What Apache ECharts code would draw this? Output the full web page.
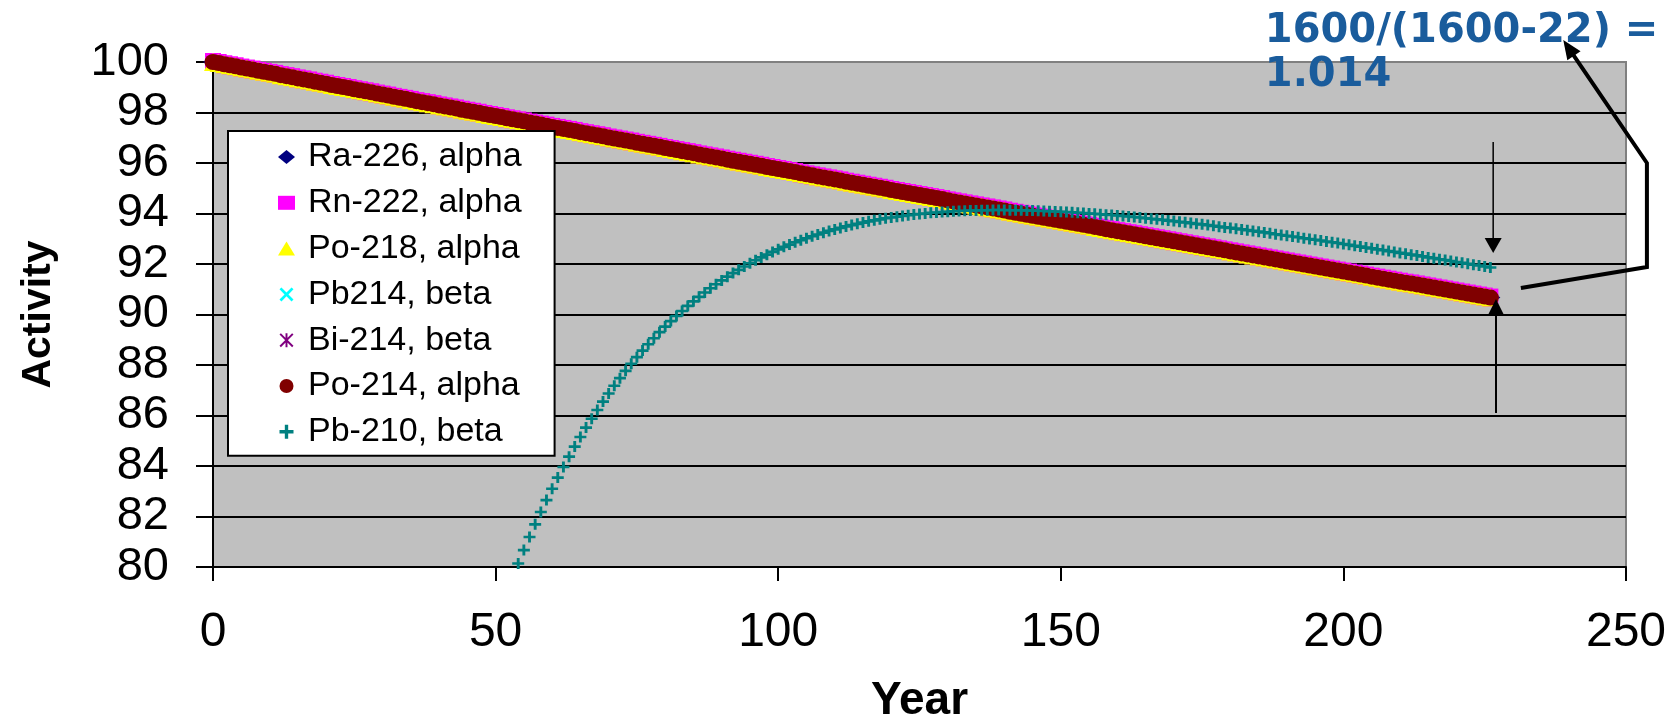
<!DOCTYPE html>
<html><head><meta charset="utf-8">
<script src="https://cdn.jsdelivr.net/npm/echarts@6/dist/echarts.min.js"></script>
<style>html,body{margin:0;padding:0;background:#fff}#c{width:1671px;height:717px}</style>
</head><body><div id="c"></div>
<script>
// ---------------- DATA ----------------
const years = [
0,1,2,3,4,5,6,7,8,9,10,11,12,13,14,15,16,17,18,19,20,21,22,23,24,25,26,27,28,29,
30,31,32,33,34,35,36,37,38,39,40,41,42,43,44,45,46,47,48,49,50,51,52,53,54,55,56,57,58,59,
60,61,62,63,64,65,66,67,68,69,70,71,72,73,74,75,76,77,78,79,80,81,82,83,84,85,86,87,88,89,
90,91,92,93,94,95,96,97,98,99,100,101,102,103,104,105,106,107,108,109,110,111,112,113,114,115,116,117,118,119,
120,121,122,123,124,125,126,127,128,129,130,131,132,133,134,135,136,137,138,139,140,141,142,143,144,145,146,147,148,149,
150,151,152,153,154,155,156,157,158,159,160,161,162,163,164,165,166,167,168,169,170,171,172,173,174,175,176,177,178,179,
180,181,182,183,184,185,186,187,188,189,190,191,192,193,194,195,196,197,198,199,200,201,202,203,204,205,206,207,208,209,
210,211,212,213,214,215,216,217,218,219,220,221,222,223,224,225,226];

// Ra-226 and its short-lived daughters (secular equilibrium, same activity)
const raChainValues = [
100.00,99.96,99.91,99.87,99.83,99.78,99.74,99.70,99.65,99.61,
99.57,99.53,99.48,99.44,99.40,99.35,99.31,99.27,99.22,99.18,
99.14,99.09,99.05,99.01,98.97,98.92,98.88,98.84,98.80,98.75,
98.71,98.67,98.62,98.58,98.54,98.50,98.45,98.41,98.37,98.33,
98.28,98.24,98.20,98.16,98.11,98.07,98.03,97.99,97.94,97.90,
97.86,97.82,97.77,97.73,97.69,97.65,97.60,97.56,97.52,97.48,
97.43,97.39,97.35,97.31,97.27,97.22,97.18,97.14,97.10,97.06,
97.01,96.97,96.93,96.89,96.85,96.80,96.76,96.72,96.68,96.64,
96.59,96.55,96.51,96.47,96.43,96.39,96.34,96.30,96.26,96.22,
96.18,96.13,96.09,96.05,96.01,95.97,95.93,95.89,95.84,95.80,
95.76,95.72,95.68,95.64,95.59,95.55,95.51,95.47,95.43,95.39,
95.35,95.31,95.26,95.22,95.18,95.14,95.10,95.06,95.02,94.98,
94.93,94.89,94.85,94.81,94.77,94.73,94.69,94.65,94.61,94.57,
94.52,94.48,94.44,94.40,94.36,94.32,94.28,94.24,94.20,94.16,
94.12,94.07,94.03,93.99,93.95,93.91,93.87,93.83,93.79,93.75,
93.71,93.67,93.63,93.59,93.55,93.51,93.47,93.43,93.38,93.34,
93.30,93.26,93.22,93.18,93.14,93.10,93.06,93.02,92.98,92.94,
92.90,92.86,92.82,92.78,92.74,92.70,92.66,92.62,92.58,92.54,
92.50,92.46,92.42,92.38,92.34,92.30,92.26,92.22,92.18,92.14,
92.10,92.06,92.02,91.98,91.94,91.90,91.86,91.82,91.78,91.74,
91.70,91.66,91.62,91.58,91.54,91.50,91.46,91.42,91.38,91.34,
91.30,91.26,91.23,91.19,91.15,91.11,91.07,91.03,90.99,90.95,
90.91,90.87,90.83,90.79,90.75,90.71,90.67];

// Pb-210 in-growth, visible from year 54 onward
const pb210FirstYear = 54;
const pb210Values = [
80.14,80.67,81.19,81.69,82.18,82.65,83.10,
83.54,83.96,84.37,84.77,85.15,85.52,85.87,86.22,86.55,86.87,
87.18,87.48,87.77,88.05,88.31,88.57,88.82,89.06,89.30,89.52,
89.74,89.94,90.14,90.34,90.52,90.70,90.87,91.04,91.20,91.35,
91.50,91.64,91.77,91.90,92.03,92.15,92.26,92.37,92.48,92.58,
92.68,92.77,92.86,92.94,93.02,93.10,93.17,93.24,93.31,93.37,
93.43,93.49,93.54,93.59,93.64,93.69,93.73,93.77,93.81,93.84,
93.87,93.90,93.93,93.96,93.98,94.00,94.03,94.04,94.06,94.07,
94.09,94.10,94.11,94.12,94.12,94.13,94.13,94.14,94.14,94.14,
94.13,94.13,94.13,94.12,94.12,94.11,94.10,94.09,94.08,94.07,
94.06,94.05,94.03,94.02,94.00,93.99,93.97,93.95,93.94,93.92,
93.90,93.88,93.86,93.84,93.81,93.79,93.77,93.75,93.72,93.70,
93.67,93.65,93.62,93.59,93.57,93.54,93.51,93.48,93.45,93.43,
93.40,93.37,93.34,93.31,93.28,93.25,93.22,93.18,93.15,93.12,
93.09,93.06,93.02,92.99,92.96,92.93,92.89,92.86,92.83,92.79,
92.76,92.72,92.69,92.65,92.62,92.58,92.55,92.51,92.48,92.44,
92.41,92.37,92.34,92.30,92.26,92.23,92.19,92.16,92.12,92.08,
92.05,92.01,91.97,91.94,91.90,91.86];

const seriesNames = ['Ra-226, alpha','Rn-222, alpha','Po-218, alpha','Pb214, beta','Bi-214, beta','Po-214, alpha','Pb-210, beta'];
const xAxisTicks = {min: 0, max: 250, interval: 50};
const yAxisTicks = {min: 80, max: 100, interval: 2};
const annotationText = '1600/(1600-22) =\n1.014';

// annotation anchors (data coordinates)
const annTextAnchor = [186.1, 102.06];
const downArrow = [[226.5, 96.83], [226.5, 92.44]];
const upArrow = [[227.0, 86.10], [227.0, 90.61]];
const bentArrow = [[231.4, 91.05], [253.7, 91.88], [253.7, 96.0], [238.9, 100.87]];

// ---------------- CHART ----------------
const SYM_X = 'path://M1.4,0L5,3.6L8.6,0L10,1.4L6.4,5L10,8.6L8.6,10L5,6.4L1.4,10L0,8.6L3.6,5L0,1.4Z';
const SYM_AST = 'path://M4.3,0H5.7V10H4.3Z M1,0L10,9L9,10L0,1Z M9,0L10,1L1,10L0,9Z';
const SYM_PLUS = 'path://M3.8,0H6.2V3.8H10V6.2H6.2V10H3.8V6.2H0V3.8H3.8Z';

const raPts = years.map((y, i) => [y, raChainValues[i]]);
const pbYears = years.filter(y => y >= pb210FirstYear);
const pbPts = pbYears.map((y, i) => [y, pb210Values[i]]);

const styles = [
  {symbol: 'diamond', size: [20, 15], color: '#000080', data: raPts},
  {symbol: 'rect', size: [16, 18], color: '#FF00FF', data: raPts},
  {symbol: 'triangle', size: [18, 18], color: '#FFFF00', data: raPts},
  {symbol: SYM_X, size: [11, 11], color: '#00FFFF', data: raPts},
  {symbol: SYM_AST, size: [11, 11], color: '#800080', data: raPts},
  {symbol: 'circle', size: [17, 16], color: '#800000', data: raPts},
  {symbol: SYM_PLUS, size: [12, 11], color: '#008080', data: pbPts}
];

const FONT = 'Liberation Sans';
const option = {
  animation: false,
  backgroundColor: '#ffffff',
  grid: {left: 213, right: 45, top: 62, bottom: 150, show: true, containLabel: false,
         outerBoundsMode: 'none',
         backgroundColor: '#C0C0C0', borderColor: '#808080', borderWidth: 2},
  xAxis: {
    type: 'value', min: xAxisTicks.min, max: xAxisTicks.max, interval: xAxisTicks.interval,
    name: 'Year', nameLocation: 'middle', nameGap: 111,
    nameTextStyle: {fontSize: 46, fontWeight: 'bold', fontFamily: FONT, color: '#000'},
    axisLine: {onZero: false, lineStyle: {color: '#000', width: 2}},
    axisTick: {show: true, length: 14, lineStyle: {color: '#000', width: 2}},
    axisLabel: {fontSize: 48, fontFamily: FONT, color: '#000', margin: 42},
    splitLine: {show: false}
  },
  yAxis: {
    type: 'value', min: yAxisTicks.min, max: yAxisTicks.max, interval: yAxisTicks.interval,
    name: 'Activity', nameLocation: 'middle', nameGap: 154, nameRotate: 90,
    nameTextStyle: {fontSize: 41, fontWeight: 'bold', fontFamily: FONT, color: '#000'},
    axisLine: {onZero: false, lineStyle: {color: '#000', width: 2}},
    axisTick: {show: true, length: 17, lineStyle: {color: '#000', width: 2}},
    axisLabel: {fontSize: 47, fontFamily: FONT, color: '#000', margin: 44},
    splitLine: {show: true, showMinLine: false, showMaxLine: false, lineStyle: {color: '#000', width: 2}}
  },
  legend: {
    orient: 'vertical', left: 228, top: 131,
    padding: [9, 33, 7, 50],
    itemGap: 11.8, itemWidth: 17, itemHeight: 14,
    backgroundColor: '#ffffff', borderColor: '#000', borderWidth: 2, borderRadius: 0,
    selectedMode: false,
    textStyle: {fontSize: 34, fontFamily: FONT, color: '#000', padding: [0, 0, 0, 8]},
    data: seriesNames
  },
  series: seriesNames.map((n, i) => ({
    name: n, type: 'scatter', symbol: styles[i].symbol, symbolSize: styles[i].size,
    itemStyle: {color: styles[i].color, opacity: 1}, data: styles[i].data,
    emphasis: {disabled: true}, silent: true
  }))
};

const chart = echarts.init(document.getElementById('c'), null, {renderer: 'canvas'});
chart.setOption(option);

const P = p => chart.convertToPixel({gridIndex: 0}, p);
function head(fromPx, toPx, len, halfW) {
  const dx = toPx[0] - fromPx[0], dy = toPx[1] - fromPx[1];
  const L = Math.hypot(dx, dy), ux = dx / L, uy = dy / L, nx = -uy, ny = ux;
  const bx = toPx[0] - ux * len, by = toPx[1] - uy * len;
  return {poly: [toPx, [bx + nx * halfW, by + ny * halfW], [bx - nx * halfW, by - ny * halfW]],
          base: [toPx[0] - ux * (len - 3), toPx[1] - uy * (len - 3)]};
}
function arrow(ptsData, lw, len, halfW) {
  const px = ptsData.map(P);
  const h = head(px[px.length - 2], px[px.length - 1], len, halfW);
  const linePts = px.slice(0, -1).concat([h.base]);
  return [
    {type: 'polyline', silent: true, z: 100, shape: {points: linePts},
     style: {stroke: '#000', lineWidth: lw, fill: null, lineJoin: 'miter'}},
    {type: 'polygon', silent: true, z: 100, shape: {points: h.poly}, style: {fill: '#000'}}
  ];
}
const tp = P(annTextAnchor);
const elements = [].concat(
  arrow(downArrow, 1.5, 15, 8.5),
  arrow(upArrow, 2, 15, 7.5),
  arrow(bentArrow, 4, 19, 8),
  [{type: 'text', silent: true, z: 100, x: tp[0], y: tp[1],
    style: {text: annotationText, fontSize: 40, fontWeight: 'bold', fontFamily: 'DejaVu Sans',
            fill: '#1A5C9C', lineHeight: 44, verticalAlign: 'top', align: 'left'}}]
);
chart.setOption({graphic: {elements: elements}});
</script>
</body></html>
